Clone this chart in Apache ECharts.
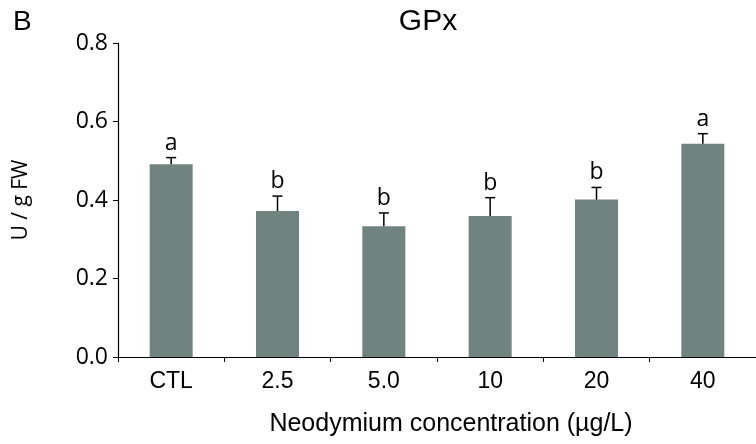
<!DOCTYPE html>
<html>
<head>
<meta charset="utf-8">
<script src="https://cdn.jsdelivr.net/npm/echarts@6/dist/echarts.min.js"></script>
<style>
  html, body { margin: 0; padding: 0; background: #fff; }
  #chart { width: 756px; height: 444px; }
</style>
</head>
<body>
<div id="chart"></div>
<script>
// GPx activity by neodymium treatment
const categories = ['CTL', '2.5', '5.0', '10', '20', '40'];
const means = [0.491, 0.372, 0.333, 0.359, 0.401, 0.543];
const errors = [0.017, 0.038, 0.034, 0.047, 0.031, 0.026];
const letters = ['a', 'b', 'b', 'b', 'b', 'a'];
const yTicks = [0.0, 0.2, 0.4, 0.6, 0.8];

const barColor = '#70837f';
const sansA = '"Open Sans", "DejaVu Sans", sans-serif';
const sansB = '"Liberation Sans", Arial, sans-serif';

const errData = categories.map((c, i) => [i, means[i], errors[i]]);

const chart = echarts.init(document.getElementById('chart'), null, { renderer: 'canvas' });

chart.setOption({
  animation: false,
  backgroundColor: '#ffffff',
  graphic: [
    { type: 'text', left: 13, top: 8,
      style: { text: 'B', font: '28px ' + sansB, fill: '#000' } },
    { type: 'text', x: 428, y: 7,
      style: { text: 'GPx', font: '30px ' + sansB, fill: '#000', textAlign: 'center', textVerticalAlign: 'top' } },
    { type: 'text', x: 451, y: 412,
      style: { text: 'Neodymium concentration (\u00b5g/L)', font: '25px ' + sansB, fill: '#000',
               textAlign: 'center', textVerticalAlign: 'top' } }
  ],
  grid: { left: 118, right: -4, top: 43, bottom: 87, containLabel: false },
  xAxis: {
    type: 'category',
    data: categories,
    boundaryGap: true,
    axisLine: { show: true, lineStyle: { color: '#000', width: 1.2 } },
    axisTick: { show: true, length: 5, alignWithLabel: false, lineStyle: { color: '#000', width: 1 } },
    axisLabel: { margin: 13, fontFamily: sansB, fontSize: 23, color: '#000' }
  },
  yAxis: {
    type: 'value',
    min: 0, max: 0.8, interval: 0.2,
    axisLine: { show: true, lineStyle: { color: '#000', width: 1.2 } },
    axisTick: { show: true, length: 5, lineStyle: { color: '#000', width: 1 } },
    splitLine: { show: false },
    axisLabel: {
      margin: 10, fontFamily: sansA, fontSize: 23, color: '#000',
      formatter: v => yTicks.some(t => Math.abs(t - v) < 1e-9) ? v.toFixed(1) : ''
    },
    name: 'U / g FW',
    nameLocation: 'middle',
    nameGap: 86,
    nameTextStyle: { fontFamily: sansA, fontSize: 21, color: '#000' }
  },
  series: [
    {
      type: 'bar',
      data: means,
      barWidth: 43,
      itemStyle: { color: barColor },
      z: 2
    },
    {
      type: 'custom',
      data: errData,
      z: 3,
      renderItem: function (params, api) {
        const i = api.value(0);
        const m = api.value(1);
        const e = api.value(2);
        const base = api.coord([i, m]);
        const top = api.coord([i, m + e]);
        const cap = 5;
        return {
          type: 'group',
          children: [
            { type: 'line', shape: { x1: base[0], y1: base[1], x2: top[0], y2: top[1] },
              style: { stroke: '#000', lineWidth: 1.5 } },
            { type: 'line', shape: { x1: top[0] - cap, y1: top[1], x2: top[0] + cap, y2: top[1] },
              style: { stroke: '#000', lineWidth: 1.5 } },
            { type: 'text', x: top[0], y: top[1] - 3,
              style: { text: letters[params.dataIndex], fill: '#000', font: '23px ' + sansA,
                       textAlign: 'center', textVerticalAlign: 'bottom' } }
          ]
        };
      }
    }
  ]
});
</script>
</body>
</html>
